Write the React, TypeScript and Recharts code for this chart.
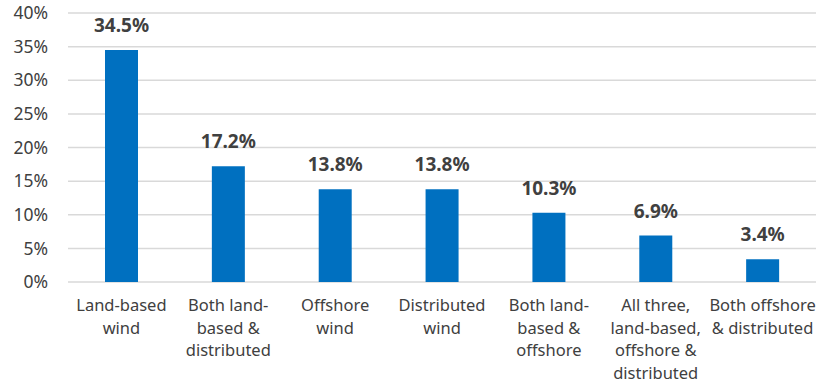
import { BarChart, Bar, XAxis, YAxis, CartesianGrid, LabelList } from "recharts";

const categories = [
  "Land-based\nwind",
  "Both land-\nbased &\ndistributed",
  "Offshore\nwind",
  "Distributed\nwind",
  "Both land-\nbased &\noffshore",
  "All three,\nland-based,\noffshore &\ndistributed",
  "Both offshore\n& distributed",
];
const shares = [34.5, 17.2, 13.8, 13.8, 10.3, 6.9, 3.4];
const yTicks = [0, 5, 10, 15, 20, 25, 30, 35, 40];

const data = categories.map((c, i) => ({ name: c, value: shares[i] }));

const FONT = "'Noto Sans', sans-serif";
const TEXT = "#404040";

function CategoryTick(props: any) {
  const { x, y, payload } = props;
  const lines = String(payload.value).split("\n");
  return (
    <text x={x} y={y} textAnchor="middle" fill={TEXT} fontFamily={FONT} fontSize={16.5}>
      {lines.map((l, i) => (
        <tspan key={i} x={x} dy={i === 0 ? 21 : 22.5}>
          {l}
        </tspan>
      ))}
    </text>
  );
}

function ValueLabel(props: any) {
  const { x, y, width, value } = props;
  return (
    <text
      x={x + width / 2}
      y={y - 18}
      textAnchor="middle"
      fill={TEXT}
      fontFamily={FONT}
      fontWeight="bold"
      fontSize={19}
    >
      {`${Number(value).toFixed(1)}%`}
    </text>
  );
}

export default function App() {
  return (
    <div style={{ position: "absolute", left: 0, top: 0, width: 816, height: 383, background: "#fff" }}>
      <BarChart
        width={816}
        height={383}
        data={data}
        margin={{ top: 13, right: 0, left: 0, bottom: 0 }}
        barCategoryGap={0}
      >
        <CartesianGrid vertical={false} stroke="#d9d9d9" strokeWidth={1.5} />
        <XAxis
          dataKey="name"
          axisLine={false}
          tickLine={false}
          interval={0}
          tick={<CategoryTick />}
          height={101}
        />
        <YAxis
          domain={[0, 40]}
          ticks={yTicks}
          interval={0}
          axisLine={false}
          tickLine={false}
          tickSize={0}
          tickMargin={20}
          width={68}
          tickFormatter={(v) => `${v}%`}
          tick={{ fill: TEXT, fontFamily: FONT, fontSize: 17.5 }}
        />
        <Bar dataKey="value" fill="#0070c0" barSize={33} isAnimationActive={false}>
          <LabelList dataKey="value" content={<ValueLabel />} />
        </Bar>
      </BarChart>
    </div>
  );
}
